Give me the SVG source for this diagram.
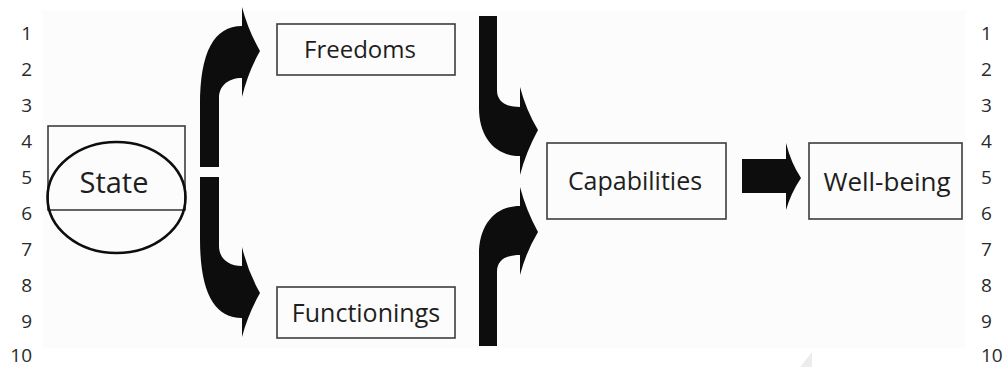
<svg xmlns="http://www.w3.org/2000/svg" width="1005" height="367" viewBox="0 0 1005 367">
  <style>
    .num { font-family: "Open Sans", "Liberation Sans", sans-serif; font-size: 19px; fill: #2a2a2a; }
    .box { fill: none; stroke: #3c3c3c; stroke-width: 1.6; }
    .lbl { font-family: "Open Sans", "Liberation Sans", sans-serif; fill: #1e1e1e; text-anchor: middle; }
    .arrow { fill: #0d0d0d; }
  </style>

  <rect x="0" y="0" width="1005" height="367" fill="#ffffff"/>
  <rect x="42" y="10" width="924" height="338" fill="#fcfcfc"/>
  <polygon points="800,367 812,352 812,367" fill="#ececec"/>

  <!-- line numbers, left margin -->
  <g id="numbers-left" class="num" text-anchor="end">
    <text x="32" y="40">1</text>
    <text x="32" y="76">2</text>
    <text x="32" y="112">3</text>
    <text x="32" y="148">4</text>
    <text x="32" y="184">5</text>
    <text x="32" y="220">6</text>
    <text x="32" y="256">7</text>
    <text x="32" y="292">8</text>
    <text x="32" y="328">9</text>
    <text x="32" y="362">10</text>
  </g>
  <!-- line numbers, right margin -->
  <g id="numbers-right" class="num" text-anchor="start">
    <text x="981" y="40">1</text>
    <text x="981" y="76">2</text>
    <text x="981" y="112">3</text>
    <text x="981" y="148">4</text>
    <text x="981" y="184">5</text>
    <text x="981" y="220">6</text>
    <text x="981" y="256">7</text>
    <text x="981" y="292">8</text>
    <text x="981" y="328">9</text>
    <text x="981" y="362">10</text>
  </g>

  <g id="state">
    <rect class="box" x="48" y="126" width="137" height="84"/>
    <ellipse cx="116.5" cy="197.5" rx="69" ry="55.5" fill="none" stroke="#0d0d0d" stroke-width="2.6"/>
    <text class="lbl" x="114" y="193" font-size="29">State</text>
  </g>

  <g id="freedoms">
    <rect class="box" x="277" y="24" width="178" height="51"/>
    <text class="lbl" x="360" y="58" font-size="24">Freedoms</text>
  </g>

  <g id="functionings">
    <rect class="box" x="277" y="287" width="178" height="51"/>
    <text class="lbl" x="366" y="322" font-size="25">Functionings</text>
  </g>

  <g id="capabilities">
    <rect class="box" x="547" y="143" width="179" height="76"/>
    <text class="lbl" x="635" y="190" font-size="25">Capabilities</text>
  </g>

  <g id="well-being">
    <rect class="box" x="809" y="143" width="153" height="76"/>
    <text class="lbl" x="887" y="191" font-size="26">Well-being</text>
  </g>

  <g id="connectors" class="arrow">
    <!-- State to Freedoms -->
    <path d="M200,167 L200,105 C200,52 214,26 242,26 L242,7 Q248,30 260,51 Q248,72 242,97 L242,78 C228,78 219,86 219,98 L219,167 Z"/>
    <!-- State to Functionings -->
    <path d="M200,177 L200,239 C200,292 214,318 242,318 L242,337 Q248,314 260,293 Q248,272 242,247 L242,266 C228,266 219,258 219,246 L219,177 Z"/>
    <!-- Freedoms to Capabilities -->
    <path d="M479,16 L497,16 L497,90 C497,102 506,107 520,107 L520,87 Q526,110 538,130 Q526,152 520,175 L520,156 C494,156 479,136 479,108 Z"/>
    <!-- Functionings to Capabilities -->
    <path d="M479,346 L497,346 L497,272 C497,260 506,255 520,255 L520,275 Q526,252 538,232 Q526,210 520,187 L520,206 C494,206 479,226 479,254 Z"/>
    <!-- Capabilities to Well-being -->
    <path d="M742,159 L786,159 L786,143 Q791,163 801,178 Q791,193 786,210 L786,193 L742,193 Z"/>
  </g>
</svg>
